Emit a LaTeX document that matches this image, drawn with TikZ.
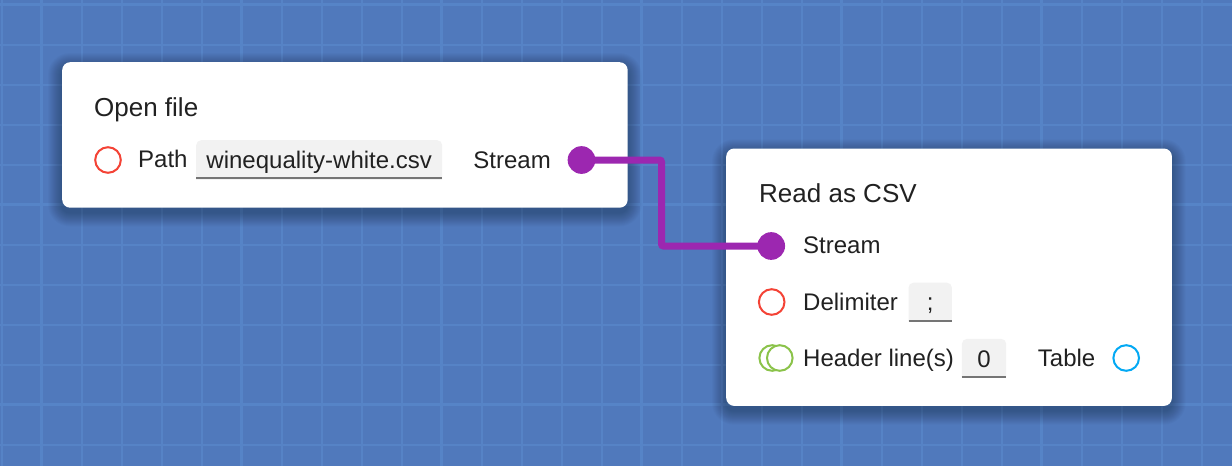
\documentclass[tikz,border=0pt]{standalone}
\usepackage{fontspec}
\setmainfont{Liberation Sans}
\definecolor{bgblue}{HTML}{5079BC}
\definecolor{gridminor}{HTML}{5683C6}
\definecolor{gridmajor}{HTML}{5684C7}
\definecolor{ink}{HTML}{212121}
\definecolor{portred}{HTML}{F44336}
\definecolor{portpurple}{HTML}{9C27B0}
\definecolor{portgreen}{HTML}{8BC34A}
\definecolor{portblue}{HTML}{03A9F4}
\definecolor{fieldgrey}{HTML}{F2F2F2}
\definecolor{fieldline}{HTML}{757575}
\pgfdeclarelayer{bg}
\pgfdeclarelayer{mid}
\pgfsetlayers{bg,mid,main}
\begin{document}
\begin{tikzpicture}[x=1pt,y=-1pt,
  cardtitle/.style={anchor=base west, inner sep=0pt, text=ink, font=\fontsize{26}{30}\selectfont},
  txt/.style={anchor=base west, inner sep=0pt, text=ink, font=\fontsize{24}{28}\selectfont},
  txtr/.style={txt, anchor=base east},
  card/.style={rectangle, fill=white, rounded corners=8pt, inner sep=0pt, anchor=north west},
  portring/.style={circle, draw=#1, line width=2pt, fill=white, minimum size=25.6pt, inner sep=0pt},
  portdot/.style={circle, fill=portpurple, minimum size=27.7pt, inner sep=0pt},
  field/.style={rectangle, inner sep=0pt, anchor=north west, minimum height=39pt,
    text height=17.2pt, text depth=0pt, text=ink, font=\fontsize{24}{28}\selectfont,
    path picture={
      \fill[fieldgrey, rounded corners=5pt] (path picture bounding box.north west) rectangle ([yshift=-12pt]path picture bounding box.south east);
      \draw[fieldline, line width=2.2pt] ([yshift=1.1pt]path picture bounding box.south west) -- ([yshift=1.1pt]path picture bounding box.south east);
    }},
  conn/.style={draw=portpurple, line width=7pt, rounded corners=2pt}
]
\useasboundingbox (0,0) rectangle (1232,466);
\begin{pgfonlayer}{bg}
  % background and grid
  \fill[bgblue] (0,0) rectangle (1232,466);
  \foreach \k in {0,...,30} \draw[gridminor, line width=2pt] (1.5+40*\k,0) -- (1.5+40*\k,466);
  \foreach \k in {0,...,11} \draw[gridminor, line width=2pt] (0,4.5+40*\k) -- (1232,4.5+40*\k);
  \foreach \k in {0,...,5} \draw[gridmajor, line width=2.7pt] (41.5+200*\k,0) -- (41.5+200*\k,466);
  \foreach \k in {0,...,2} \draw[gridmajor, line width=2.7pt] (0,4.5+200*\k) -- (1232,4.5+200*\k);
  % shadows
  \foreach \i in {1,...,14} {
    \pgfmathsetmacro\rr{8+\i}
    \fill[black, opacity=0.018, rounded corners=\rr pt] (62-\i,62-\i+5) rectangle (627.5+\i,207.5+\i+5);
    \fill[black, opacity=0.018, rounded corners=\rr pt] (726-\i,148.3-\i+5) rectangle (1171.7+\i,405.7+\i+5);
  }
  % cards
  \node[card, minimum width=565.5pt, minimum height=145.5pt] (openfile) at (62,62) {};
  \node[card, minimum width=445.7pt, minimum height=257.4pt] (readcsv) at (726,148.3) {};
\end{pgfonlayer}

% Open file card
\node[cardtitle] (t1) at (94,116) {Open file};
\node[portring=portred] (p1) at (108,160) {};
\node[txt] (l1) at (138,167.8) {Path};
\node[field, minimum width=246pt] (f1) at (196,140) {winequality-white.csv};
\node[txtr] (l2) at (551,168) {Stream};
\node[portdot] (s1) at (581.5,160) {};

% Read as CSV card
\node[cardtitle] (t2) at (759,202) {Read as CSV};
\node[portdot] (s2) at (771.2,246) {};
\node[txt] (l3) at (803,253.6) {Stream};
\node[portring=portred] (p2) at (771.7,302) {};
\node[txt] (l4) at (803,310) {Delimiter};
\node[field, minimum width=43.4pt] (f2) at (908.3,282.5) {;};
\node[portring=portgreen] (g1) at (772.2,358) {};
\node[portring=portgreen] (g2) at (779.8,358) {};
\node[txt] (l5) at (803,366) {Header line(s)};
\node[field, minimum width=44.3pt] (f3) at (961.7,338.7) {0};
\node[txtr] (l6) at (1095.5,366) {Table};
\node[portring=portblue] (p3) at (1126.2,358) {};

% connector
\coordinate (e1) at (661.5,160);
\coordinate (e2) at (661.5,246);
\begin{pgfonlayer}{mid}
  \draw[conn] (s1.center) -- (e1) -- (e2) -- (s2.center);
\end{pgfonlayer}
\end{tikzpicture}
\end{document}
